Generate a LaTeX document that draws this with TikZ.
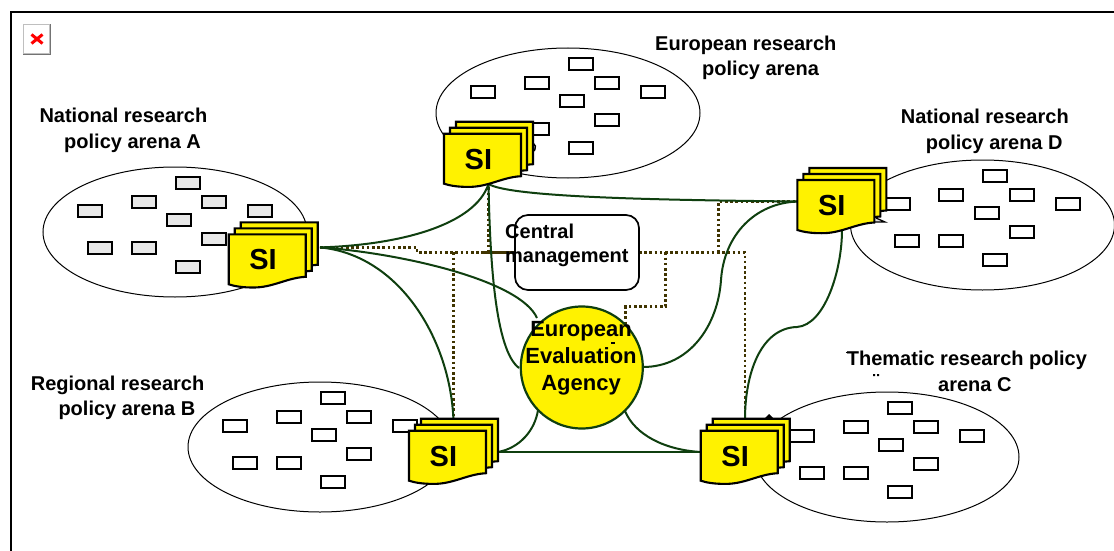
\documentclass[tikz,border=0pt]{standalone}
\usepackage{fontspec}
\setmainfont{Liberation Sans}
\usetikzlibrary{shapes.geometric}
\definecolor{linkgreen}{HTML}{0F3F0F}
\definecolor{dotolive}{HTML}{403400}
\definecolor{chipgray}{HTML}{E8E8E8}
\tikzset{
  arena/.style={ellipse,draw=black,line width=1pt,fill=white,minimum width=264pt,minimum height=130pt,inner sep=0pt},
  chip/.style={rectangle,draw=black,line width=2pt,minimum width=24pt,minimum height=12pt,inner sep=0pt},
  sheet/.style={draw=black,line width=2.1pt,fill=yellow,line join=miter},
  link/.style={draw=linkgreen,line width=2pt},
  dotlink/.style={draw=dotolive,line width=2.6pt,dash pattern=on 2.6pt off 2.6pt},
  lab/.style={font=\bfseries\fontsize{20}{25.7}\selectfont,align=left,inner sep=0pt,anchor=base west},
  sitext/.style={font=\bfseries\fontsize{29}{32}\selectfont,inner sep=0pt,anchor=base west},
  agencytext/.style={font=\bfseries\fontsize{22}{27}\selectfont,align=center,inner sep=0pt},
  speck/.style={fill=black,draw=none},
}
% name, x, y, chip fill
\newcommand{\arenagroup}[4]{%
  \node[arena] (#1) at (#2,#3) {};
  \begin{scope}[shift={(#2,#3)}]
    \foreach \dx/\dy [count=\i] in {12.7/-49,-31.3/-30.3,39.3/-30.3,-84.7/-21,85.3/-21,4/-11.7,39.3/6.7,-75.3/16,-31.3/16,12.7/34.7}
      \node[chip,fill=#4] (#1-\i) at (\dx,\dy) {};
  \end{scope}
}
\newcommand{\sheetshape}{(0,0) -- (77,0) -- (77,42.5) .. controls (58,43.5) and (44,53.5) .. (24,53.2) .. controls (14,53.2) and (6,52) .. (0,50) -- cycle}
% name, x, y
\newcommand{\sistack}[3]{%
  \begin{scope}[shift={(#2,#3)}]
    \draw[sheet,shift={(12,-12)}] \sheetshape;
    \draw[sheet,shift={(6,-6)}] \sheetshape;
    \draw[sheet] \sheetshape;
    \node[sitext] (#1) at (20.5,35.5) {SI};
  \end{scope}
}
\begin{document}
\begin{tikzpicture}[x=1pt,y=-1pt]
\useasboundingbox (0,0) rectangle (1114,551);
\fill[white] (0,0) rectangle (1114,551);
% frame
\draw[black,line width=2pt] (11,551) -- (11,12) -- (1114,12);
% broken image icon
\fill[black!55] (23.3,24.3) rectangle (50.7,55.3);
\fill[black!25] (23.3,24.3) rectangle (49.7,54.3);
\fill[white] (24.3,25.3) rectangle (48.7,53.3);
\draw[red,line width=3pt] (31.5,34.5) -- (42.5,43.5) (42.5,34.5) -- (31.5,43.5);
% arenas
\arenagroup{arenaA}{175}{232}{chipgray}
\arenagroup{arenaE}{568}{113}{white}
\arenagroup{arenaD}{982.5}{225}{white}
\arenagroup{arenaB}{320}{447}{white}
\arenagroup{arenaC}{887}{457}{white}
% connection points
\coordinate (outA) at (320,247.4);
\coordinate (outE) at (488.5,184);
\coordinate (inD) at (797.5,201.5);
\coordinate (outD) at (842,230);
\coordinate (topB) at (453.4,419);
\coordinate (topC) at (745,419);
\coordinate (sideB) at (498,452);
\coordinate (sideC) at (701,452);
% dotted network
\coordinate (d1) at (417,247.4);
\coordinate (d2) at (417,252.4);
\coordinate (boxL) at (515,252.4);
\coordinate (boxR) at (639,252.4);
\coordinate (jB) at (453.4,252.4);
\coordinate (jE) at (488.5,252.4);
\coordinate (jAg) at (665.7,252.4);
\coordinate (jAg2) at (665.7,306.4);
\coordinate (jAg3) at (625.7,306.4);
\coordinate (jAg4) at (625.7,326);
\coordinate (jD) at (718.7,252.4);
\coordinate (jD2) at (718.7,201.5);
\coordinate (jC) at (745,252.4);
\draw[dotlink] (outA) -- (d1) -- (d2) -- (boxL);
\draw[draw=dotolive,line width=2.6pt] (483,252.4) -- (boxL);
\draw[dotlink] (jB) -- (topB);
\draw[dotlink] (jE) -- (outE);
\draw[dotlink] (boxR) -- (jC) -- (topC);
\draw[dotlink] (jAg) -- (jAg2) -- (jAg3) -- (jAg4);
\draw[dotlink] (jD) -- (jD2) -- (inD);
% solid links
\draw[link] (outA) .. controls (400,245) and (475,225) .. (outE);
\draw[link] (outA) .. controls (400,253) and (520,280) .. (537,318);
\draw[link] (outA) .. controls (400,255) and (450,340) .. (topB);
\draw[link] (outE) .. controls (490,260) and (495,350) .. (519,368);
\draw[link] (outE) .. controls (510,197) and (650,200) .. (inD);
\draw[link] (643,367) .. controls (690,367) and (718,325) .. (721,280) .. controls (724,235) and (755,203) .. (inD);
\draw[link] (outD) .. controls (842,270) and (825,325) .. (797,327) .. controls (760,328) and (745,375) .. (topC);
\draw[link] (538,410) .. controls (535,430) and (520,448) .. (sideB);
\draw[link] (625,411) .. controls (635,435) and (665,450) .. (sideC);
\draw[link] (sideB) -- (sideC);
% central management
\node[draw=black,line width=1.7pt,fill=white,rounded corners=13pt,minimum width=124pt,minimum height=75pt,inner sep=0pt] (mgmt) at (577,252.5) {};
% agency
\node[circle,draw=linkgreen,line width=2.2pt,fill=yellow,minimum size=122pt,inner sep=0pt] (agency) at (581.8,367.5) {};
% small remnants
\fill[speck] (611,342) rectangle (615,343.5);
\fill[speck] (846,351.5) rectangle (852,353);
\fill[speck] (873,374) rectangle (875,376) (877,374) rectangle (879,376);
\draw[black,line width=1.5pt] (533,143) arc (-60:60:5);
\draw[black,line width=1.3pt,fill=gray!25] (876,218) -- (885,222) -- (874,222);
\fill[black] (769,414) -- (773,418) -- (765,418) -- cycle;
% SI stacks
\sistack{siA}{228.7}{234.3}
\sistack{siE}{444}{133.7}
\sistack{siD}{797.3}{180}
\sistack{siB}{409}{430.7}
\sistack{siC}{700.7}{430.7}
% texts (anchored on the last line)
\node[lab] (labA) at (39.3,148) {National research\\\hspace*{24.7pt}policy arena A};
\node[lab] (labE) at (655,76) {European research\\\hspace*{47pt}policy arena};
\node[lab] (labD) at (900.7,149.5) {National research\\\hspace*{25pt}policy arena D};
\node[lab] (labB) at (30.7,415.7) {Regional research\\\hspace*{27.6pt}policy arena B};
\node[lab] (labC) at (846.7,391) {Thematic research policy\\\hspace*{91.3pt}arena C};
\node[lab] (mgmttext) at (505,262) {Central\\[-1.7pt]management};
\node[agencytext,anchor=base] (agencylabel) at (581,390) {European\\Evaluation\\Agency};
\end{tikzpicture}
\end{document}
